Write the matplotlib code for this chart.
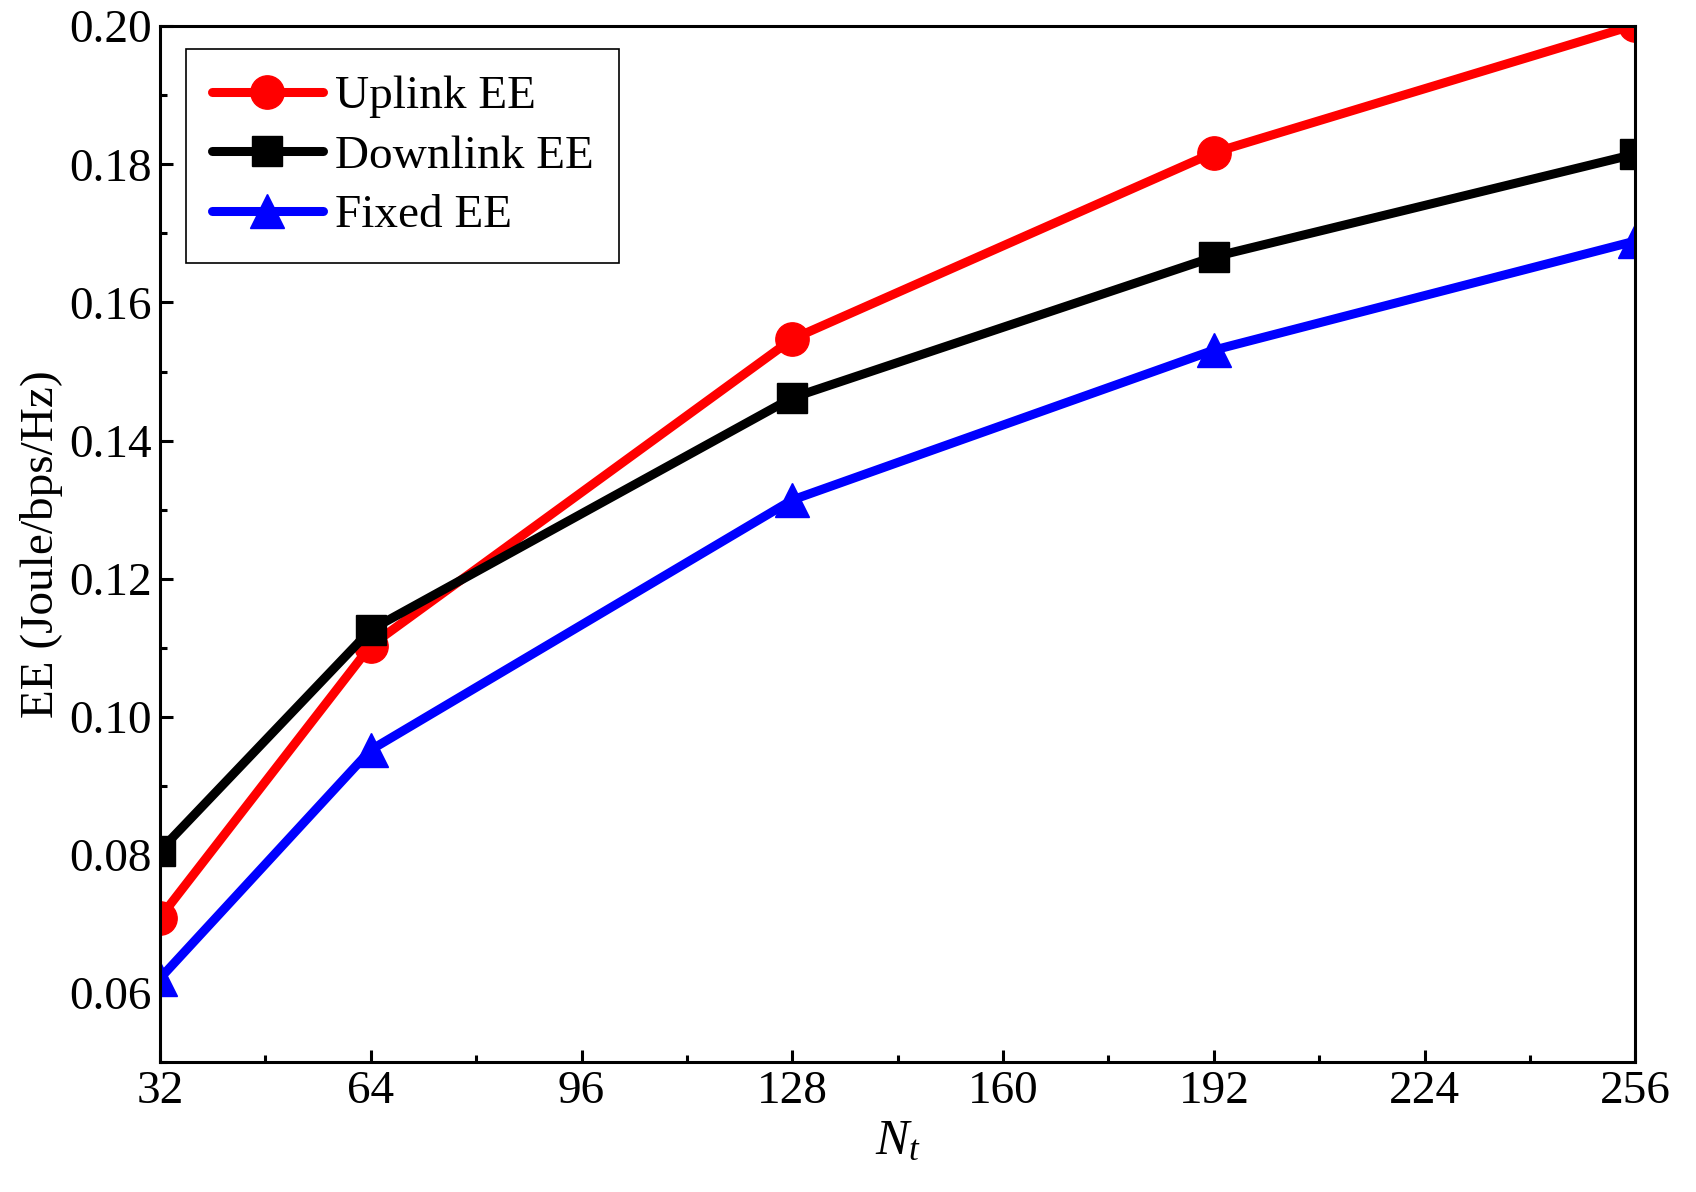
import matplotlib
matplotlib.use("Agg")
import matplotlib.pyplot as plt
from matplotlib.ticker import MultipleLocator

plt.rcParams["font.family"] = ["Liberation Serif", "DejaVu Serif"]
plt.rcParams["mathtext.fontset"] = "custom"
plt.rcParams["mathtext.rm"] = "Liberation Serif"
plt.rcParams["mathtext.it"] = "Liberation Serif:italic"

nt = [32, 64, 128, 192, 256]
uplink = [0.0709, 0.1103, 0.1547, 0.1817, 0.2002]
downlink = [0.0806, 0.1126, 0.1462, 0.1666, 0.1815]
fixed = [0.0621, 0.0952, 0.1314, 0.1531, 0.1689]
yticks = [0.06, 0.08, 0.10, 0.12, 0.14, 0.16, 0.18, 0.20]

fig = plt.figure(figsize=(16.96, 11.92), dpi=100)
ax = fig.add_axes([0.0943, 0.109, 0.870, 0.869])

lw = 6.5
style = dict(linewidth=lw, solid_capstyle="round", solid_joinstyle="round")
ax.plot(nt, uplink, color="red", marker="o", markersize=24, label="Uplink EE", **style)
ax.plot(nt, downlink, color="black", marker="s", markersize=21, label="Downlink EE", **style)
ax.plot(nt, fixed, color="blue", marker="^", markersize=24, label="Fixed EE", **style)

ax.set_xlim(32, 256)
ax.set_ylim(0.05, 0.20)
ax.xaxis.set_major_locator(MultipleLocator(32))
ax.xaxis.set_minor_locator(MultipleLocator(16))
ax.yaxis.set_minor_locator(MultipleLocator(0.01))
ax.set_yticks(yticks)
ax.set_yticklabels([f"{v:.2f}" for v in yticks])

ax.tick_params(which="both", direction="in", labelsize=34, width=2.2)
ax.tick_params(which="major", length=9, pad=6)
ax.tick_params(which="minor", length=5)
for s in ax.spines.values():
    s.set_linewidth(2.2)

ax.set_xlabel("$N_t$", fontsize=36, labelpad=4)
ax.set_ylabel("EE (Joule/bps/Hz)", fontsize=34, labelpad=4)

leg = ax.legend(loc="upper left", bbox_to_anchor=(0.0176, 0.978), borderaxespad=0,
                fontsize=34, fancybox=False, edgecolor="black", framealpha=1,
                handlelength=2.35, handletextpad=0.25, labelspacing=0.35,
                borderpad=0.55)
leg.get_frame().set_linewidth(1.2)

fig.savefig("out.png", dpi=100)
